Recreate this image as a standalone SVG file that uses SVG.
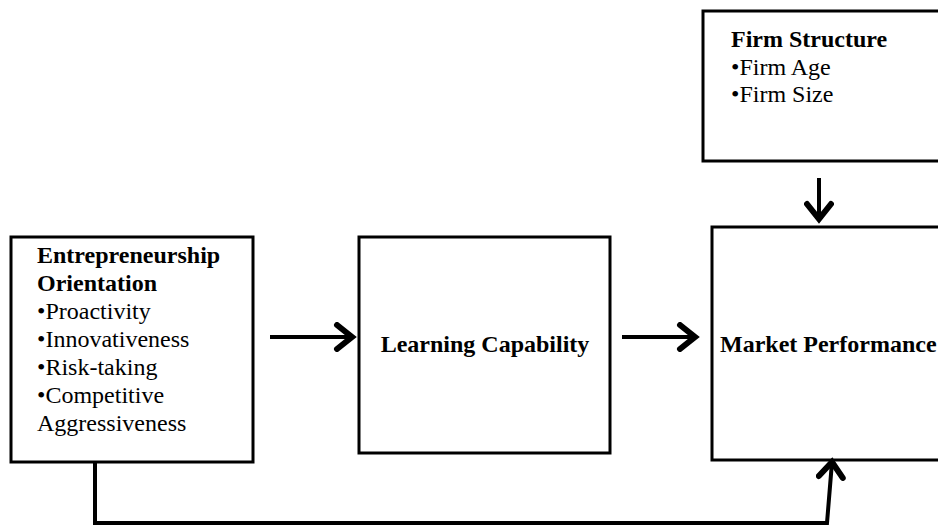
<svg xmlns="http://www.w3.org/2000/svg" width="938" height="528" viewBox="0 0 938 528">
<style>
.box{fill:#fff;stroke:#000;stroke-width:3}
.t{font-family:"Liberation Serif","Times New Roman",serif;font-size:24px;fill:#000}
.b{font-weight:bold}
.c{fill:none;stroke:#000;stroke-width:4;stroke-linejoin:miter}
</style>
<defs>
<marker id="ah" markerUnits="userSpaceOnUse" markerWidth="30" markerHeight="30" refX="14" refY="10" orient="auto" viewBox="0 0 20 20">
<path d="M4,2 L14,10 L4,18" fill="none" stroke="#000" stroke-width="4" stroke-linecap="round" stroke-linejoin="miter"/>
</marker>
</defs>
<rect width="938" height="528" fill="#fff"/>
<g id="node-eo">
<rect class="box" x="11" y="237" width="242" height="225"/>
<text class="t b" x="37" y="263">Entrepreneurship</text>
<text class="t b" x="37" y="291">Orientation</text>
<text class="t" x="37" y="319">•Proactivity</text>
<text class="t" x="37" y="347">•Innovativeness</text>
<text class="t" x="37" y="375">•Risk-taking</text>
<text class="t" x="37" y="403">•Competitive</text>
<text class="t" x="37" y="431">Aggressiveness</text>
</g>
<g id="node-lc">
<rect class="box" x="359" y="237" width="251" height="216"/>
<text class="t b" x="485" y="352" text-anchor="middle">Learning Capability</text>
</g>
<g id="node-mp">
<rect class="box" x="712" y="227" width="240" height="233"/>
<text class="t b" x="720" y="352">Market Performance</text>
</g>
<g id="node-fs">
<rect class="box" x="703" y="11" width="250" height="150"/>
<text class="t b" x="731" y="47">Firm Structure</text>
<text class="t" x="731" y="75">•Firm Age</text>
<text class="t" x="731" y="102">•Firm Size</text>
</g>
<g id="connectors">
<line class="c" x1="270" y1="337" x2="352" y2="337" marker-end="url(#ah)"/>
<line class="c" x1="622" y1="337" x2="695" y2="337" marker-end="url(#ah)"/>
<line class="c" x1="819" y1="178" x2="819" y2="219" marker-end="url(#ah)"/>
<polyline class="c" points="95,462 95,523 827,523 832,462" marker-end="url(#ah)"/>
</g>
</svg>
